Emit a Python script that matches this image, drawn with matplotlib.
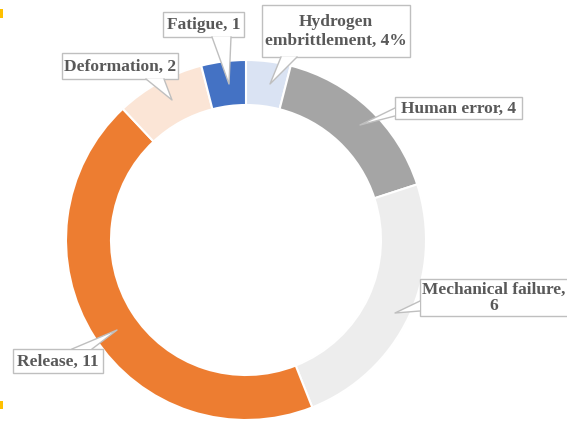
"""
Donut chart of incident causes with callout labels (pixel coordinate layout).
"""

import matplotlib.pyplot as plt
from matplotlib.patches import Polygon, Rectangle

plt.rcParams["font.family"] = ["Liberation Serif", "DejaVu Serif"]

# data, clockwise from 12 o'clock
causes = ["Hydrogen embrittlement", "Human error", "Mechanical failure",
          "Release", "Deformation", "Fatigue"]
counts = [1, 4, 6, 11, 2, 1]
label_texts = ["Hydrogen\nembrittlement, 4%", "Human error, 4",
               "Mechanical failure,\n6", "Release, 11", "Deformation, 2",
               "Fatigue, 1"]
colors = ["#DAE3F3", "#A5A5A5", "#EDEDED", "#ED7D31", "#FBE5D6", "#4472C4"]

W, H = 567, 425
CENTER = (246, 240)
RADIO = 180
ANCHO = 45

# callout boxes (x0, y0, x1, y1) and pointer (base1, base2, tip), in pixels
cajas = [
    (262, 5, 410, 57),
    (395, 97, 522, 119),
    (420, 279, 575, 316),
    (13, 349, 103, 373),
    (62, 53, 178, 79),
    (163, 12, 244, 37),
]
punteros = [
    [(281, 57), (297, 57), (270, 84)],
    [(395, 108), (395, 116), (360, 125)],
    [(420, 301), (420, 311), (395, 313)],
    [(72, 349), (92, 349), (117, 330)],
    [(146, 79), (164, 79), (172, 100)],
    [(212, 37), (231, 37), (229, 84)],
]
centros_texto = [None, None, 494, None, None, None]
interlineado = [1.25, 1.0, 0.95, 1.0, 1.0, 1.0]

TXT_COLOR = "#595959"
BORDE = "#BFBFBF"

fig = plt.figure(figsize=(W / 100, H / 100), dpi=100)
ax = fig.add_axes([0, 0, 1, 1])

# y invertido: angulos crecientes en datos = sentido horario en pantalla
ax.pie(counts, colors=colors, startangle=-90, counterclock=True,
       radius=RADIO, center=CENTER,
       wedgeprops=dict(width=ANCHO, edgecolor="white", linewidth=1.5))
ax.set_xlim(0, W)
ax.set_ylim(H, 0)
ax.set_aspect("equal")
ax.axis("off")

for txt, (x0, y0, x1, y1), (b1, b2, tip), cx, ls in zip(
        label_texts, cajas, punteros, centros_texto, interlineado):
    ax.add_patch(Rectangle((x0, y0), x1 - x0, y1 - y0, facecolor="white",
                           edgecolor=BORDE, linewidth=1, zorder=3))
    # tapar el borde en la base del puntero
    ax.add_patch(Polygon([b1, b2, tip], closed=True, facecolor="white",
                         edgecolor="none", zorder=4))
    ax.plot([b1[0], tip[0], b2[0]], [b1[1], tip[1], b2[1]],
            color=BORDE, linewidth=1, zorder=5)
    if cx is None:
        cx = (x0 + x1) / 2
    ax.text(cx, (y0 + y1) / 2 + 0.5, txt, ha="center", va="center",
            fontsize=12.5, fontweight="bold", color=TXT_COLOR,
            linespacing=ls, zorder=6)

# marcas naranjas del recorte original
ax.add_patch(Rectangle((0, 9), 3, 9, facecolor="#FFC000", edgecolor="none"))
ax.add_patch(Rectangle((0, 401), 3, 8, facecolor="#FFC000", edgecolor="none"))

fig.savefig("out.png", dpi=100)
